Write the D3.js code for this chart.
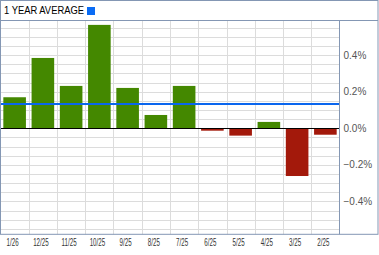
<!DOCTYPE html>
<html>
<head>
<meta charset="utf-8">
<script src="https://cdn.jsdelivr.net/npm/d3@7"></script>
<style>
  body { margin: 0; background: #fff; }
  svg { display: block; }
  text { font-family: "Liberation Sans", Arial, sans-serif; }
</style>
</head>
<body>
<svg width="379" height="255"></svg>
<script>
// monthly returns, newest first
var months = ['1/26', '12/25', '11/25', '10/25', '9/25', '8/25', '7/25', '6/25', '5/25', '4/25', '3/25', '2/25'];
var returns = [0.17, 0.385, 0.232, 0.566, 0.221, 0.073, 0.232, -0.013, -0.04, 0.035, -0.261, -0.035];
var yearAverage = 0.133;
var yTicks = [0.4, 0.2, 0, -0.2, -0.4];

var svg = d3.select('svg');
var border = '#8497b4';
var plotRight = 339.5;
var plotTop = 20.5;
var plotBottom = 234.3;

var x = d3.scaleBand()
  .domain(months)
  .range([0.5, plotRight])
  .paddingInner(0.2)
  .paddingOuter(0.1);

var y = d3.scaleLinear()
  .domain([-0.58, 0.59])
  .range([plotBottom, plotTop]);

// horizontal grid every 0.05%
var gridVals = d3.range(-11, 12).map(function(k) { return k * 0.05; });
svg.append('g')
  .selectAll('line')
  .data(gridVals)
  .enter().append('line')
  .attr('x1', 0.5).attr('x2', plotRight)
  .attr('y1', function(d) { return Math.round(y(d)) + 0.5; })
  .attr('y2', function(d) { return Math.round(y(d)) + 0.5; })
  .attr('stroke', '#dcdcdc');

// vertical grid on band boundaries
svg.append('g')
  .selectAll('line')
  .data(months.slice(1))
  .enter().append('line')
  .attr('x1', function(d) { return Math.round(x(d) - x.step() * 0.1) + 0.5; })
  .attr('x2', function(d) { return Math.round(x(d) - x.step() * 0.1) + 0.5; })
  .attr('y1', plotTop).attr('y2', plotBottom)
  .attr('stroke', '#dcdcdc');

// bars
svg.append('g')
  .selectAll('rect')
  .data(returns)
  .enter().append('rect')
  .attr('x', function(d, i) { return x(months[i]); })
  .attr('width', x.bandwidth())
  .attr('y', function(d) { return y(Math.max(0, d)); })
  .attr('height', function(d) { return Math.abs(y(d) - y(0)); })
  .attr('fill', function(d) { return d >= 0 ? '#448800' : '#a3190b'; });

// zero line
svg.append('line')
  .attr('x1', 0.5).attr('x2', plotRight)
  .attr('y1', Math.round(y(0)) + 0.5).attr('y2', Math.round(y(0)) + 0.5)
  .attr('stroke', '#000');

// average line
svg.append('line')
  .attr('x1', 0.5).attr('x2', plotRight)
  .attr('y1', y(yearAverage)).attr('y2', y(yearAverage))
  .attr('stroke', '#0a66ee')
  .attr('stroke-width', 2);

// frame
svg.append('rect')
  .attr('x', 0.5).attr('y', 0.5)
  .attr('width', 377.5).attr('height', plotBottom - 0.5)
  .attr('fill', 'none').attr('stroke', border);
svg.append('line')
  .attr('x1', 0.5).attr('x2', 378).attr('y1', plotTop).attr('y2', plotTop)
  .attr('stroke', border);
svg.append('line')
  .attr('x1', plotRight).attr('x2', plotRight).attr('y1', plotTop).attr('y2', plotBottom)
  .attr('stroke', border);

// header
svg.append('text')
  .attr('x', 4).attr('y', 14)
  .attr('font-size', 10)
  .attr('textLength', 80)
  .attr('lengthAdjust', 'spacingAndGlyphs')
  .attr('fill', '#000')
  .text('1 YEAR AVERAGE');
svg.append('rect')
  .attr('x', 87).attr('y', 7)
  .attr('width', 8).attr('height', 8)
  .attr('fill', '#0a6cf5');

// y labels
svg.append('g')
  .selectAll('text')
  .data(yTicks)
  .enter().append('text')
  .attr('x', 343.5)
  .attr('y', function(d) { return y(d); })
  .attr('dy', '0.35em')
  .attr('font-size', 10)
  .attr('fill', '#555')
  .text(function(d) { return d3.format('.1f')(d) + '%'; });

// x labels (narrow)
svg.append('g')
  .selectAll('text')
  .data(months)
  .enter().append('text')
  .attr('transform', function(d) {
    return 'translate(' + (x(d) + x.bandwidth() / 2 - 2) + ',245.5) scale(0.62,1)';
  })
  .attr('text-anchor', 'middle')
  .attr('font-size', 10)
  .attr('fill', '#333')
  .text(function(d) { return d; });
</script>
</body>
</html>
